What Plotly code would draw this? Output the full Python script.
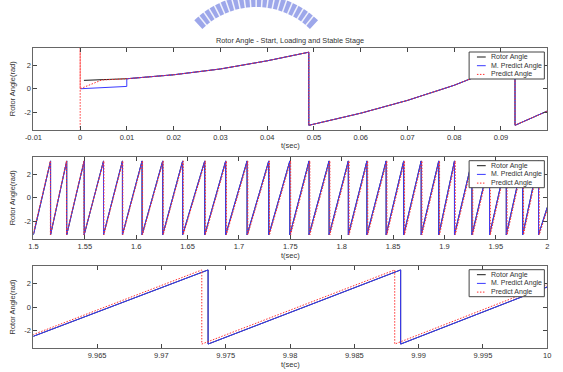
import math
import plotly.graph_objects as go
from plotly.subplots import make_subplots

PI = math.pi

# ---------------- data ----------------
# Subplot 1: start / loading
rotor1_t = [0.0008, 0.004, 0.0091, 0.01, 0.02, 0.03, 0.04, 0.0489, 0.0489, 0.06, 0.07, 0.08, 0.09, 0.0930, 0.0930, 0.1]
rotor1_y = [0.72, 0.78, 0.85, 0.86, 1.2, 1.7, 2.4, 3.14, -3.14, -2.1, -1.0, 0.3, 1.9, 3.14, -3.14, -1.9]
mpred1_t = [0.0, 0.00997, 0.00997, 0.02, 0.03, 0.04, 0.0489, 0.0489, 0.06, 0.07, 0.08, 0.09, 0.0930, 0.0930, 0.1]
mpred1_y = [0.0, 0.2, 0.86, 1.2, 1.7, 2.4, 3.14, -3.14, -2.1, -1.0, 0.3, 1.9, 3.14, -3.14, -1.9]
pred1_t = [0.0, 0.0, 0.0, 0.0046, 0.01, 0.02, 0.03, 0.04, 0.0489, 0.0489, 0.06, 0.07, 0.08, 0.09, 0.0930, 0.0930, 0.1]
pred1_y = [-3.6, 3.6, 0.0, 0.75, 0.86, 1.2, 1.7, 2.4, 3.14, -3.14, -2.1, -1.0, 0.3, 1.9, 3.14, -3.14, -1.9]

# Subplot 2: sawtooth wrap instants (s)
rotor2_start = (1.5, -3.14)
rotor2_wraps = [1.5167, 1.5324, 1.5494, 1.5682, 1.5866, 1.6057, 1.6258, 1.6452, 1.6667,
                1.6871, 1.7079, 1.7290, 1.7495, 1.7682, 1.7877, 1.8064, 1.8245, 1.8432,
                1.8603, 1.8773, 1.8944, 1.9097, 1.9267, 1.9438, 1.9601, 1.9761, 1.9915]
rotor2_end = (2.0, -0.8)
pred2_start = (1.5, -3.0)
pred2_wraps = [1.5165, 1.5322, 1.5492, 1.5686, 1.5870, 1.6062, 1.6263, 1.6458, 1.6673,
               1.6878, 1.7086, 1.7297, 1.7503, 1.7690, 1.7885, 1.8072, 1.8253, 1.8440,
               1.8611, 1.8781, 1.8952, 1.9105, 1.9275, 1.9446, 1.9609, 1.9769, 1.9922]
pred2_end = (2.0, -1.0)

# Subplot 3: stable stage
rotor3_t = [9.96, 9.97363, 9.97363, 9.98860, 9.98860, 10.0]
rotor3_y = [-2.5, 3.14, -3.14, 3.14, -3.14, 1.7]
pred3_t = [9.96, 9.97314, 9.97314, 9.98814, 9.98814, 10.0]
pred3_y = [-2.35, 3.14, -3.14, 3.14, -3.14, 1.9]

series_names = ["Rotor Angle", "M. Predict Angle", "Predict Angle"]
x_ranges = [[-0.01, 0.0999], [1.5, 2.0], [9.96005, 10.0]]
x_ticks = [[-0.01, 0, 0.01, 0.02, 0.03, 0.04, 0.05, 0.06, 0.07, 0.08, 0.09],
           [1.5, 1.55, 1.6, 1.65, 1.7, 1.75, 1.8, 1.85, 1.9, 1.95, 2.0],
           [9.965, 9.97, 9.975, 9.98, 9.985, 9.99, 9.995, 10.0]]
x_ticktext = [["-0.01", "0", "0.01", "0.02", "0.03", "0.04", "0.05", "0.06", "0.07", "0.08", "0.09"],
              ["1.5", "1.55", "1.6", "1.65", "1.7", "1.75", "1.8", "1.85", "1.9", "1.95", "2"],
              ["9.965", "9.97", "9.975", "9.98", "9.985", "9.99", "9.995", "10"]]
y_ticks = [-2, 0, 2]
y_ticktext = ["-2", "0", "2"]
title_text = "Rotor Angle - Start, Loading and Stable Stage"
x_label = "t(sec)"
y_label = "Rotor Angle(rad)"


def saw(start, wraps, end):
    xs, ys = [start[0]], [start[1]]
    for w in wraps:
        xs += [w, w]
        ys += [PI, -PI]
    xs.append(end[0]); ys.append(end[1])
    return xs, ys


rotor2_t, rotor2_y = saw(rotor2_start, rotor2_wraps, rotor2_end)
pred2_t, pred2_y = saw(pred2_start, pred2_wraps, pred2_end)

# ---------------- layout geometry ----------------
W, H = 563, 372
X0, X1 = 25, 551
plots_px = [(48, 129.5), (156.7, 239), (265.7, 348.3)]

BLACK = "#1a1a1a"
BLUE = "#3a3aff"
RED = "#ff3030"
TXT = "#333"
FONT = "Liberation Sans, Arial, sans-serif"

fig = make_subplots(rows=3, cols=1)

data = [
    (rotor1_t, rotor1_y, mpred1_t, mpred1_y, pred1_t, pred1_y),
    (rotor2_t, rotor2_y, rotor2_t, rotor2_y, pred2_t, pred2_y),
    (rotor3_t, rotor3_y, rotor3_t, rotor3_y, pred3_t, pred3_y),
]
for i, (rt, ry, mt, my, pt, py) in enumerate(data, start=1):
    fig.add_trace(go.Scatter(x=rt, y=ry, mode="lines", name=series_names[0],
                             line=dict(color=BLACK, width=1), showlegend=False), row=i, col=1)
    fig.add_trace(go.Scatter(x=mt, y=my, mode="lines", name=series_names[1],
                             line=dict(color=BLUE, width=1), showlegend=False), row=i, col=1)
    fig.add_trace(go.Scatter(x=pt, y=py, mode="lines", name=series_names[2],
                             line=dict(color=RED, width=1, dash="1.5px,1.5px"), showlegend=False), row=i, col=1)

shapes = []
annotations = []
for i, (top, bot) in enumerate(plots_px, start=1):
    xd = [X0 / W, X1 / W]
    yd = [1 - bot / H, 1 - top / H]
    axx = "xaxis" if i == 1 else f"xaxis{i}"
    axy = "yaxis" if i == 1 else f"yaxis{i}"
    fig.layout[axx].update(domain=xd, range=x_ranges[i - 1], tickvals=x_ticks[i - 1],
                           ticktext=x_ticktext[i - 1], ticks="inside", ticklen=4,
                           tickcolor="#444", mirror="ticks", showline=True, linecolor="#666",
                           linewidth=1, showgrid=False, zeroline=False,
                           tickfont=dict(family=FONT, size=7.5, color=TXT),
                           title=dict(text=x_label, font=dict(family=FONT, size=7.5, color=TXT), standoff=2))
    fig.layout[axy].update(domain=yd, range=[-3.5, 3.5], tickvals=y_ticks, ticktext=y_ticktext,
                           ticks="inside", ticklen=4, tickcolor="#444", mirror="ticks",
                           showline=True, linecolor="#666", linewidth=1, showgrid=False,
                           zeroline=False, tickfont=dict(family=FONT, size=7.5, color=TXT),
                           title=dict(text=y_label, font=dict(family=FONT, size=7.5, color=TXT), standoff=7))

    # manual MATLAB-style legend box
    ph = bot - top
    def dx(px):
        return (px - X0) / (X1 - X0)
    def dy(py):
        return 1 - (py - top) / ph
    xr, yr = f"x{i} domain" if i > 1 else "x domain", f"y{i} domain" if i > 1 else "y domain"
    shapes.append(dict(type="rect", xref=xr, yref=yr, x0=dx(471), x1=dx(548), y0=dy(top + 4), y1=dy(top + 31),
                       line=dict(color="#444", width=1), fillcolor="white", layer="above"))
    colors = [BLACK, BLUE, RED]
    dashes = ["solid", "solid", "1.5px,1.5px"]
    for k in range(3):
        yy = top + 9 + k * 8.7
        shapes.append(dict(type="line", xref=xr, yref=yr, x0=dx(479), x1=dx(488), y0=dy(yy), y1=dy(yy),
                           line=dict(color=colors[k], width=1, dash=dashes[k]), layer="above"))
        annotations.append(dict(xref=xr, yref=yr, x=dx(491), y=dy(yy), text=series_names[k],
                                showarrow=False, xanchor="left", yanchor="middle",
                                font=dict(family=FONT, size=7, color=TXT)))

# title
annotations.append(dict(xref="paper", yref="paper", x=(X0 + X1) / 2 / W, y=1 - 40 / H, text=title_text,
                        showarrow=False, xanchor="center", yanchor="middle",
                        font=dict(family=FONT, size=7.3, color=TXT)))

# watermark logo (decorative striped arch at the top)
cx, cy, ro, ri = 253, 87, 92, 80
a0, a1 = math.radians(226.5), math.radians(313.5)
n = 40
pts = []
for j in range(n + 1):
    a = a0 + (a1 - a0) * j / n
    pts.append((cx + ro * math.cos(a), cy + ro * math.sin(a)))
for j in range(n, -1, -1):
    a = a0 + (a1 - a0) * j / n
    pts.append((cx + ri * math.cos(a), cy + ri * math.sin(a)))
path = "M " + " L ".join(f"{px / W:.5f},{1 - max(py, 0) / H:.5f}" for px, py in pts) + " Z"
shapes.append(dict(type="path", xref="paper", yref="paper", path=path,
                   fillcolor="rgba(115,130,225,0.7)", line=dict(width=0), layer="below"))
for j in range(1, 22):
    a = a0 + (a1 - a0) * j / 22
    x_in, y_in = cx + (ri - 1) * math.cos(a), cy + (ri - 1) * math.sin(a)
    x_out, y_out = cx + (ro + 1) * math.cos(a), cy + (ro + 1) * math.sin(a)
    shapes.append(dict(type="line", xref="paper", yref="paper",
                       x0=x_in / W, y0=1 - y_in / H, x1=x_out / W, y1=1 - y_out / H,
                       line=dict(color="rgba(255,255,255,0.85)", width=1.5), layer="below"))

fig.update_layout(width=W, height=H, margin=dict(l=0, r=0, t=0, b=0),
                  paper_bgcolor="white", plot_bgcolor="white", showlegend=False,
                  shapes=shapes, annotations=annotations)

fig.write_html("out.html")
